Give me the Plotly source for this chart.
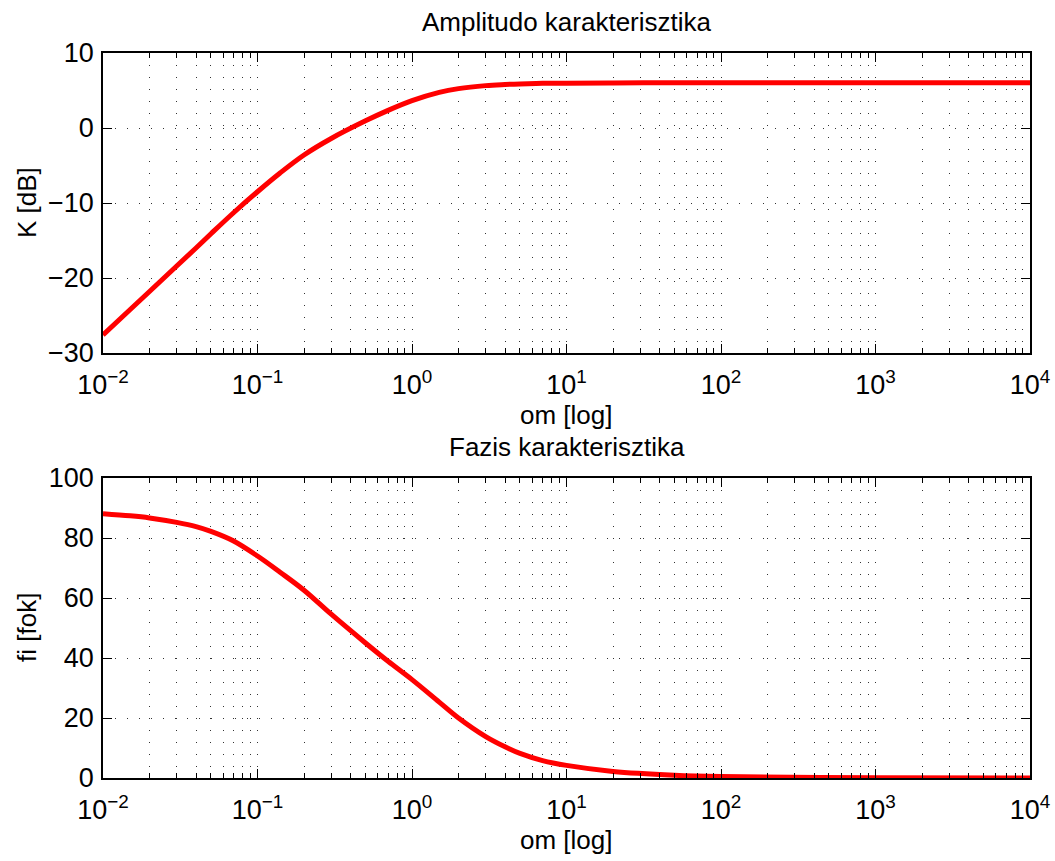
import plotly.graph_objects as go
from plotly.subplots import make_subplots

# Frequency samples (rad/s) and the measured amplitude / phase response
om = [0.01, 0.015, 0.02, 0.03, 0.04, 0.05, 0.07, 0.1, 0.14, 0.2, 0.3, 0.5, 0.7,
      1.0, 1.5, 2.0, 3.0, 4.0, 5.0, 7.0, 10.0, 20.0, 50.0, 100.0, 1000.0, 10000.0]
K_dB = [-27.6, -24.2, -21.8, -18.4, -16.0, -14.1, -11.3, -8.5, -6.0, -3.6, -1.4, 0.95, 2.35,
        3.65, 4.75, 5.25, 5.65, 5.8, 5.88, 5.95, 5.98, 6.01, 6.02, 6.02, 6.02, 6.02]
fi_fok = [88.1, 87.4, 86.7, 85.2, 83.8, 82.2, 79.0, 74.0, 68.6, 62.6, 54.6, 45.0, 38.9,
          32.8, 25.3, 20.0, 13.8, 10.4, 8.2, 5.8, 4.2, 2.2, 0.95, 0.5, 0.05, 0.0]

x_tickvals = [1e-2, 1e-1, 1e0, 1e1, 1e2, 1e3, 1e4]
x_ticktext = ["10<sup>\u22122</sup>", "10<sup>\u22121</sup>", "10<sup>0</sup>",
              "10<sup>1</sup>", "10<sup>2</sup>", "10<sup>3</sup>", "10<sup>4</sup>"]

titles = ["Amplitudo karakterisztika", "Fazis karakterisztika"]
x_label = "om [log]"
y_labels = ["K [dB]", "fi [fok]"]

FONT = "Liberation Sans, Arial, Helvetica, sans-serif"
W, H = 1055, 861
DOT = "1px,11px"
TICK_SIZE = 27
TEXT_SIZE = 26

fig = make_subplots(rows=2, cols=1)

for i, ys in enumerate([K_dB, fi_fok], start=1):
    fig.add_trace(go.Scatter(x=om, y=ys, mode="lines",
                             line=dict(color="#ff0000", width=5, shape="spline", smoothing=1.0),
                             showlegend=False), row=i, col=1)

axis_common = dict(showline=True, linecolor="black", linewidth=1.5, mirror="allticks",
                   ticks="inside", ticklen=9, tickwidth=1.2, tickcolor="black",
                   showgrid=True, gridcolor="#333333", gridwidth=1, griddash=DOT,
                   zeroline=False, automargin=False,
                   tickfont=dict(family=FONT, size=TICK_SIZE, color="black"))

# plot-area placement in pixels (top, bottom) for each panel
panels = [(53, 353), (478, 778)]
left, right = 103, 1030
cx = (left + right) / 2 / W

for i, (top, bot) in enumerate(panels, start=1):
    fig.update_xaxes(row=i, col=1, type="log", range=[-2, 4],
                     tickvals=x_tickvals, ticktext=x_ticktext,
                     domain=[left / W, right / W], ticklabelstandoff=7,
                     minor=dict(dtick="D1", ticks="inside", ticklen=5, tickcolor="black",
                                showgrid=True, gridcolor="#333333", gridwidth=1, griddash=DOT),
                     **axis_common)
for i, (rng, dt) in enumerate([([-30, 10], 10), ([0, 100], 20)], start=1):
    top, bot = panels[i - 1]
    fig.update_yaxes(row=i, col=1, range=rng, dtick=dt,
                     domain=[(H - bot) / H, (H - top) / H], ticklabelstandoff=2,
                     **axis_common)

for (top, bot), t, yl in zip(panels, titles, y_labels):
    # panel title
    fig.add_annotation(text=t, xref="paper", yref="paper",
                       x=cx, y=(H - (top - 31)) / H,
                       xanchor="center", yanchor="middle", showarrow=False,
                       font=dict(family=FONT, size=TEXT_SIZE, color="black"))
    # x axis label
    fig.add_annotation(text=x_label, xref="paper", yref="paper",
                       x=cx, y=(H - (bot + 62)) / H,
                       xanchor="center", yanchor="middle", showarrow=False,
                       font=dict(family=FONT, size=TEXT_SIZE, color="black"))
    # y axis label
    fig.add_annotation(text=yl, xref="paper", yref="paper", textangle=-90,
                       x=27 / W, y=(H - (top + bot) / 2) / H,
                       xanchor="center", yanchor="middle", showarrow=False,
                       font=dict(family=FONT, size=TEXT_SIZE, color="black"))

fig.update_layout(width=W, height=H, margin=dict(l=0, r=0, t=0, b=0),
                  paper_bgcolor="white", plot_bgcolor="white",
                  font=dict(family=FONT, size=TEXT_SIZE, color="black"))

fig.write_html("out.html")
